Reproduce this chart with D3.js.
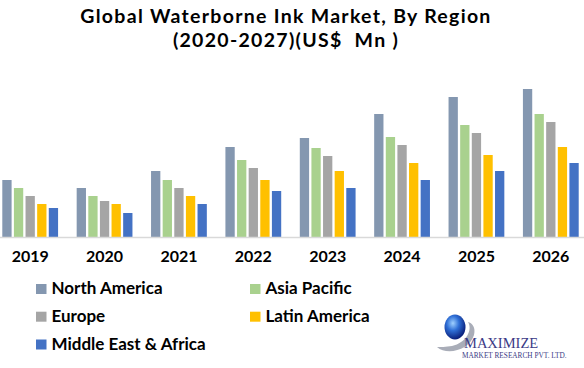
<!DOCTYPE html>
<html>
<head>
<meta charset="utf-8">
<script src="https://cdn.jsdelivr.net/npm/d3@7"></script>
<style>
  html, body { margin: 0; padding: 0; background: #fff; }
  svg { display: block; font-family: Lato, 'Open Sans', sans-serif; }
  text { white-space: pre; }
</style>
</head>
<body>
<div id="chart"></div>
<script>
// chart values (US$ Mn)
var years = ['2019', '2020', '2021', '2022', '2023', '2024', '2025', '2026'];
var regions = ['North America', 'Asia Pacific', 'Europe', 'Latin America', 'Middle East & Africa'];
var northAmerica = [57, 49, 66, 90, 99, 123, 140, 148];
var asiaPacific = [49, 41, 57, 77, 89, 100, 112, 123];
var europe = [41, 36, 49, 69, 81, 92, 104, 115];
var latinAmerica = [33, 33, 41, 57, 66, 74, 82, 90];
var middleEastAfrica = [29, 24, 33, 46, 49, 57, 66, 74];
var colors = ['#8497B0', '#A9D18E', '#A5A5A5', '#FFC000', '#4472C4'];
var titleLines = ['Global Waterborne Ink Market, By Region', '(2020-2027)(US$  Mn )'];

var seriesValues = [northAmerica, asiaPacific, europe, latinAmerica, middleEastAfrica];

var width = 584, height = 368;
var baseline = 237;

var svg = d3.select('#chart').append('svg')
    .attr('width', width)
    .attr('height', height);

// title
var title = svg.selectAll('text.title')
    .data(titleLines)
    .enter()
    .append('text')
    .attr('class', 'title')
    .attr('x', 286)
    .attr('y', function(d, i) { return 22.5 + i * 24; })
    .attr('text-anchor', 'middle')
    .style('font-size', '19.5px')
    .style('font-weight', 'bold')
    .style('fill', '#000')
    .text(function(d) { return d; });

// first title line is ~410px wide in the original, spread the letters to it
var w0 = title.node().getComputedTextLength();
if (w0 > 0) {
    var ls = (410 - w0) / (titleLines[0].length - 1);
    title.style('letter-spacing', Math.max(0, ls).toFixed(2) + 'px');
}

var x0 = d3.scaleBand()
    .domain(years)
    .range([-7, 588])
    .paddingInner(0.25)
    .paddingOuter(0.125);

var x1 = d3.scaleBand()
    .domain(regions)
    .range([0, x0.bandwidth()])
    .paddingInner(0.2)
    .paddingOuter(0);

var y = d3.scaleLinear()
    .domain([0, 160])
    .range([baseline, baseline - 160]);

var rows = years.map(function(yr, i) {
    return {
        year: yr,
        values: regions.map(function(r, j) {
            return { region: r, value: seriesValues[j][i], color: colors[j] };
        })
    };
});

var groups = svg.selectAll('g.year')
    .data(rows)
    .enter()
    .append('g')
    .attr('class', 'year')
    .attr('transform', function(d) { return 'translate(' + x0(d.year) + ',0)'; });

groups.selectAll('rect')
    .data(function(d) { return d.values; })
    .enter()
    .append('rect')
    .attr('x', function(d) { return x1(d.region); })
    .attr('width', x1.bandwidth())
    .attr('y', function(d) { return y(d.value); })
    .attr('height', function(d) { return baseline - y(d.value); })
    .style('fill', function(d) { return d.color; });

// category axis
var xAxis = svg.append('g')
    .attr('transform', 'translate(0,' + baseline + ')')
    .call(d3.axisBottom(x0).tickSize(0).tickPadding(14));

xAxis.select('.domain')
    .attr('d', 'M0,0.5H' + width)
    .style('stroke', '#D9D9D9')
    .style('stroke-width', 1.5);

xAxis.selectAll('text')
    .style('font-family', "Lato, 'Open Sans', sans-serif")
    .style('font-size', '16px')
    .style('font-weight', 'bold')
    .style('fill', '#000');

// legend
var legendPos = [[36, 284], [250, 284], [36, 311.7], [250, 311.7], [36, 339.5]];

var legend = svg.selectAll('g.legend')
    .data(regions)
    .enter()
    .append('g')
    .attr('class', 'legend')
    .attr('transform', function(d, i) { return 'translate(' + legendPos[i][0] + ',' + legendPos[i][1] + ')'; });

legend.append('rect')
    .attr('width', 10.5)
    .attr('height', 10)
    .style('fill', function(d, i) { return colors[i]; });

legend.append('text')
    .attr('x', 15.5)
    .attr('y', 10.3)
    .style('font-size', '17px')
    .style('font-weight', 'bold')
    .style('fill', '#000')
    .text(function(d) { return d; });

// logo
var logo = svg.append('g').attr('class', 'logo');
var defs = svg.append('defs');
var grad = defs.append('radialGradient')
    .attr('id', 'globe')
    .attr('cx', '40%').attr('cy', '35%').attr('r', '65%');
grad.append('stop').attr('offset', '0%').attr('stop-color', '#9fd0ff');
grad.append('stop').attr('offset', '45%').attr('stop-color', '#2f6fd6');
grad.append('stop').attr('offset', '100%').attr('stop-color', '#0a1f7a');

logo.append('path')
    .attr('d', 'M437,347 C447,356 470,350 474,335 C476,327 472,323 468,322 C473,330 466,343 452,346 C446,347 440,347 437,347 Z')
    .style('fill', '#a9adb8');

logo.append('ellipse')
    .attr('cx', 455).attr('cy', 327)
    .attr('rx', 10.5).attr('ry', 12.5)
    .style('fill', 'url(#globe)');

logo.append('text')
    .attr('x', 464).attr('y', 347.5)
    .style('font-family', "'Liberation Serif', 'DejaVu Serif', serif")
    .style('font-size', '14.5px')
    .style('fill', '#3b3a86')
    .text('MAXIMIZE');

logo.append('text')
    .attr('x', 462).attr('y', 358)
    .style('font-family', "'Liberation Serif', 'DejaVu Serif', serif")
    .style('font-size', '7.3px')
    .style('fill', '#3b3a86')
    .text('MARKET RESEARCH PVT. LTD.');
</script>
</body>
</html>
